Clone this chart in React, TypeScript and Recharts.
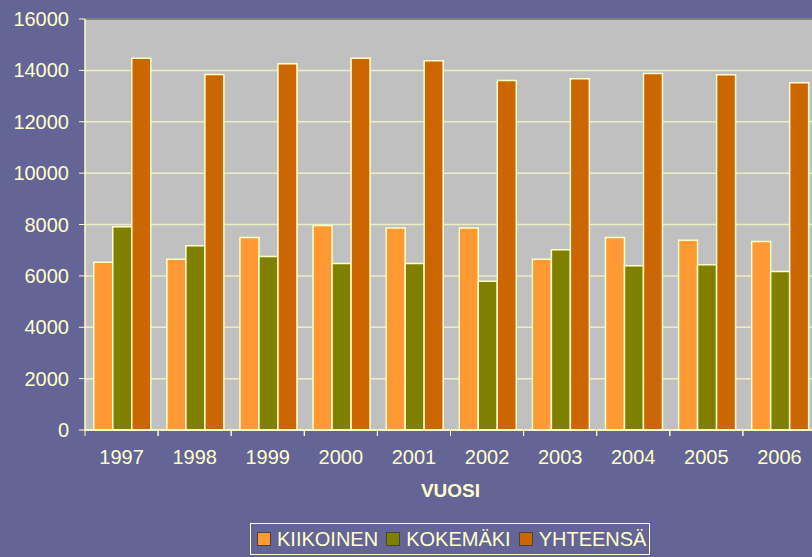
import React from 'react';
import { BarChart, Bar, XAxis, YAxis, CartesianGrid, Legend, ReferenceLine } from 'recharts';

const years = ['1997', '1998', '1999', '2000', '2001', '2002', '2003', '2004', '2005', '2006'];
const kiikoinen = [6530, 6650, 7490, 7960, 7860, 7860, 6650, 7490, 7390, 7340];
const kokemaki = [7910, 7170, 6750, 6480, 6480, 5790, 7020, 6390, 6430, 6170];
const yhteensa = [14470, 13840, 14260, 14470, 14370, 13610, 13670, 13880, 13830, 13520];
const yTicks = [0, 2000, 4000, 6000, 8000, 10000, 12000, 14000, 16000];

const seriesNames = ['KIIKOINEN', 'KOKEMÄKI', 'YHTEENSÄ'];
const seriesColors = ['#ff9933', '#808000', '#cc6600'];

const data = years.map((y, i) => ({
  year: y,
  KIIKOINEN: kiikoinen[i],
  KOKEMAKI: kokemaki[i],
  YHTEENSA: yhteensa[i],
}));

const TXT = '#ffffcc';
const FONT = '"Liberation Sans", Arial, sans-serif';

const XTick = (props: any) => {
  const { x, y, payload } = props;
  const off = payload && typeof payload.offset === 'number' && payload.offset > 0 ? payload.offset : 36.5;
  const ay = y - 20;
  return (
    <g>
      <line x1={x - off} x2={x - off} y1={ay} y2={ay + 6} stroke={TXT} strokeWidth={1} />
      <line x1={x + off} x2={x + off} y1={ay} y2={ay + 6} stroke={TXT} strokeWidth={1} />
      <text x={x} y={y} dy="0.71em" textAnchor="middle" fill={TXT} fontSize={20} fontFamily={FONT}>
        {payload.value}
      </text>
    </g>
  );
};

const LegendBox = () => (
  <div
    style={{
      display: 'flex',
      alignItems: 'center',
      border: `1px solid ${TXT}`,
      width: 400,
      height: 32,
      boxSizing: 'border-box',
      paddingLeft: 6,
      fontFamily: FONT,
      fontSize: 20,
      color: TXT,
    }}
  >
    {seriesNames.map((n, i) => (
      <div key={n} style={{ display: 'flex', alignItems: 'center', marginRight: 8 }}>
        <span
          style={{
            display: 'inline-block',
            width: 12,
            height: 12,
            background: seriesColors[i],
            border: '1px solid #444',
            marginRight: 6,
          }}
        />
        <span style={{ lineHeight: '20px' }}>{n}</span>
      </div>
    ))}
  </div>
);

export default function App() {
  return (
    <div style={{ position: 'fixed', left: 0, top: 0, width: 812, height: 557, overflow: 'hidden', background: '#646496' }}>
      <BarChart
        width={830}
        height={557}
        data={data}
        margin={{ top: 19, right: 14, bottom: 52, left: 0 }}
        barCategoryGap="12%"
        barGap={0}
      >
        <CartesianGrid vertical={false} fill="#c0c0c0" stroke="#eeeec4" strokeWidth={1.5} />
        <ReferenceLine y={16000} stroke="#808080" strokeWidth={2} />
        <XAxis
          dataKey="year"
          axisLine={{ stroke: TXT, strokeWidth: 1.5 }}
          tickLine={false}
          tickSize={6}
          tickMargin={14}
          tick={<XTick />}
          height={75}
          interval={0}
          label={{
            value: 'VUOSI',
            position: 'insideBottom',
            offset: 8,
            fill: TXT,
            fontSize: 19,
            fontWeight: 'bold',
            fontFamily: FONT,
          }}
        />
        <YAxis
          width={85}
          domain={[0, 16000]}
          ticks={yTicks}
          interval={0}
          axisLine={{ stroke: TXT, strokeWidth: 1.5 }}
          tickLine={{ stroke: TXT }}
          tickSize={6}
          tickMargin={10}
          tick={{ fill: TXT, fontSize: 20, fontFamily: FONT }}
        />
        <Legend
          layout="horizontal"
          verticalAlign="middle"
          align="center"
          content={() => <LegendBox />}
          wrapperStyle={{ position: 'absolute', left: 250, top: 523, width: 400, height: 32 }}
        />
        <Bar dataKey="KIIKOINEN" name="KIIKOINEN" fill={seriesColors[0]} stroke={TXT} strokeWidth={1.5} isAnimationActive={false} />
        <Bar dataKey="KOKEMAKI" name="KOKEMÄKI" fill={seriesColors[1]} stroke={TXT} strokeWidth={1.5} isAnimationActive={false} />
        <Bar dataKey="YHTEENSA" name="YHTEENSÄ" fill={seriesColors[2]} stroke={TXT} strokeWidth={1.5} isAnimationActive={false} />
      </BarChart>
    </div>
  );
}
